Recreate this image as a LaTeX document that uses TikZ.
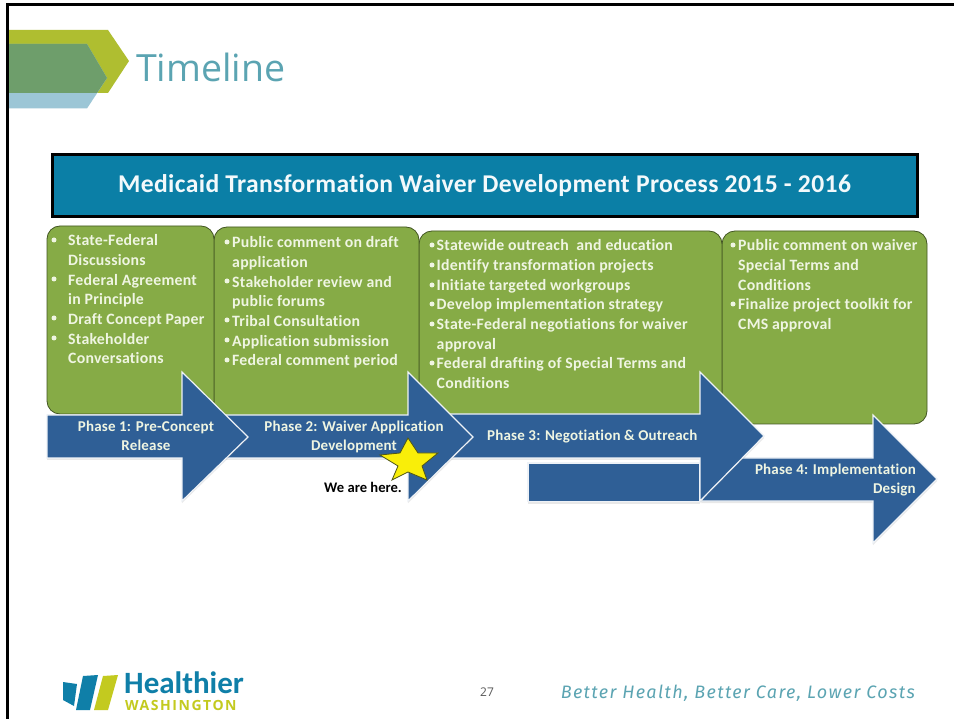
\documentclass[tikz,border=0pt]{standalone}
\usepackage{fontspec}
\setmainfont{Open Sans}
\newfontfamily\bodyf[Ligatures=NoCommon]{Carlito}
\newfontfamily\tagf{Fira Sans}
\usetikzlibrary{shadows}
\definecolor{teal}{HTML}{5BA4B2}
\definecolor{lime}{HTML}{AFBE30}
\definecolor{midgreen}{HTML}{6E9E6B}
\definecolor{ltblue}{HTML}{9CC6D6}
\definecolor{boxgreen}{HTML}{86AB46}
\definecolor{arrowblue}{HTML}{2F5F96}
\definecolor{bannerblue}{HTML}{0B7FA6}
\definecolor{hwblue}{HTML}{0F7FA8}
\definecolor{hwlime}{HTML}{C3CA1F}
\definecolor{txtlight}{HTML}{EFF5E2}
\tikzset{
  x=1pt,y=-1pt,
  gbox/.style={fill=boxgreen,draw=black!50!boxgreen,line width=.8pt,rounded corners=13pt},
  arrowshape/.style={fill=arrowblue,draw=white!92!arrowblue,line width=1.2pt,line join=miter,
    drop shadow={shadow xshift=0pt,shadow yshift=-2pt,opacity=.18}},
  gtext/.style={anchor=north west,align=left,text=txtlight,font=\bodyf\fontsize{15.8}{19.7}\selectfont\bfseries\addfontfeature{LetterSpace=1.6},inner sep=0pt},
  ptext/.style={text=txtlight,align=center,font=\bodyf\fontsize{15}{19}\selectfont\bfseries\addfontfeature{LetterSpace=1.2},inner sep=0pt},
  bdot/.style={fill=txtlight},
}
\begin{document}
\begin{tikzpicture}
\path[use as bounding box] (0,0) rectangle (954,719);
\fill[white] (0,0) rectangle (954,719);
% header decoration
\fill[lime] (9,30) -- (108,30) -- (129,61) -- (108,93) -- (9,93) -- cycle;
\fill[ltblue] (9,44) -- (87,44) -- (107,78) -- (87,108.5) -- (9,108.5) -- cycle;
\fill[midgreen] (9,44) -- (87,44) -- (107,78) -- (97,93) -- (9,93) -- cycle;
\node[anchor=base west,text=teal,font=\fontsize{37.5}{40}\selectfont,inner sep=0pt] (title) at (136,81.5) {Timeline};
% banner
\node[draw=black,line width=3pt,fill=bannerblue,minimum width=865pt,minimum height=62pt,inner sep=0pt,text=white!95!bannerblue,font=\bodyf\fontsize{25.6}{28}\selectfont\bfseries\addfontfeature{LetterSpace=1.5}] (banner) at (484.5,185.5) {\raisebox{-1.5pt}{Medicaid Transformation Waiver Development Process 2015 - 2016}};
% green boxes
\path[gbox] (722,231) rectangle (927,424);
\path[gbox] (419,231) rectangle (722,420);
\path[gbox] (214,227) rectangle (419,420);
\path[gbox] (47,226) rectangle (214,414);
% arrows (back to front)
\path[arrowshape] (730,458) -- (873,458) -- (873,415) -- (937,479) -- (873,543) -- (873,501) -- (701,501) -- cycle;
\path[arrowshape] (528,463) -- (700,463) -- (700,501.5) -- (528,501.5) -- cycle;
\path[arrowshape] (440,414) -- (700,414) -- (700,372) -- (764,436) -- (700,501) -- (700,458) -- (440,458) -- cycle;
\path[arrowshape] (220,415) -- (408,415) -- (408,372) -- (473,437) -- (408,501) -- (408,458) -- (220,458) -- cycle;
\path[arrowshape] (47,415) -- (182,415) -- (182,372) -- (248,437) -- (182,501) -- (182,458) -- (47,458) -- cycle;
% phase text
\node[ptext] (p1) at (146,435.5) {Phase 1: Pre-Concept\\Release};
\node[ptext] (p2) at (354,436.5) {Phase 2: Waiver Application\\Development};
\node[ptext,anchor=west] (p3) at (487,437) {Phase 3: Negotiation \& Outreach};
\node[ptext,align=right,anchor=east] (p4) at (916,480.5) {Phase 4: Implementation\\Design\hspace{17pt}};
% star
\path[fill=yellow!92!lime,draw=black!55!lime,line width=.8pt,line join=miter]
  (408,438) -- (418,453) -- (438,453) -- (422,466) -- (427,480) -- (408,472) -- (392,480) -- (398,466) -- (380,455) -- (400,453) -- cycle;
\node[anchor=base west,inner sep=0pt,text=black,font=\bodyf\fontsize{14.6}{16}\selectfont\bfseries] (here) at (324,493) {We are here.};
% box text
\node[gtext] (t1) at (68,234.5) {State-Federal\\Discussions\\Federal Agreement\\in Principle\\Draft Concept Paper\\Stakeholder\\Conversations};
\node[gtext] (t2) at (232,236.5) {Public comment on draft\\application\\Stakeholder review and\\public forums\\Tribal Consultation\\Application submission\\Federal comment period};
\node[gtext] (t3) at (436.5,239.5) {Statewide outreach\ \ and education\\Identify transformation projects\\Initiate targeted workgroups\\Develop implementation strategy\\State-Federal negotiations for waiver\\approval\\Federal drafting of Special Terms and\\Conditions};
\node[gtext] (t4) at (738,239.5) {Public comment on waiver\\Special Terms and\\Conditions\\Finalize project toolkit for\\CMS approval};
% bullets
\foreach \y in {240,279,318,338} \fill[bdot] (54,\y) circle [radius=2.5pt];
\foreach \y in {242,281,320,340,360} \fill[bdot] (227,\y) circle [radius=2.5pt];
\foreach \y in {245,265,285,304,324,363} \fill[bdot] (432,\y) circle [radius=2.5pt];
\foreach \y in {245,304} \fill[bdot] (733,\y) circle [radius=2.5pt];
% logo
\fill[hwblue] (63,682) -- (77,684) -- (74,706) -- (63,700) -- cycle;
\fill[hwblue] (83,676) -- (98,675) -- (90,710) -- (76,710) -- cycle;
\fill[hwlime] (103,676) -- (118,675) -- (108,710) -- (94,710) -- cycle;
\node[anchor=base west,inner sep=0pt,text=hwblue,font=\bodyf\fontsize{31}{34}\selectfont\bfseries] (h1) at (124,693) {Healthier};
\node[anchor=base west,inner sep=0pt,text=hwlime,font=\fontsize{14}{16}\selectfont\bfseries\addfontfeature{LetterSpace=11}] (h2) at (125,710.5) {WASHINGTON};
% footer
\node[anchor=base,inner sep=0pt,text=black!65,font=\fontsize{12}{14}\selectfont] (pg) at (487,696) {27};
\node[anchor=base east,inner sep=0pt,text=teal,font=\tagf\fontsize{18}{20}\selectfont\itshape\addfontfeature{LetterSpace=7.5}] (tag) at (915,698) {Better Health, Better Care, Lower Costs};
% frame
\draw[black,line width=3pt] (954,5) -- (7.5,5) -- (7.5,719);
\end{tikzpicture}
\end{document}
